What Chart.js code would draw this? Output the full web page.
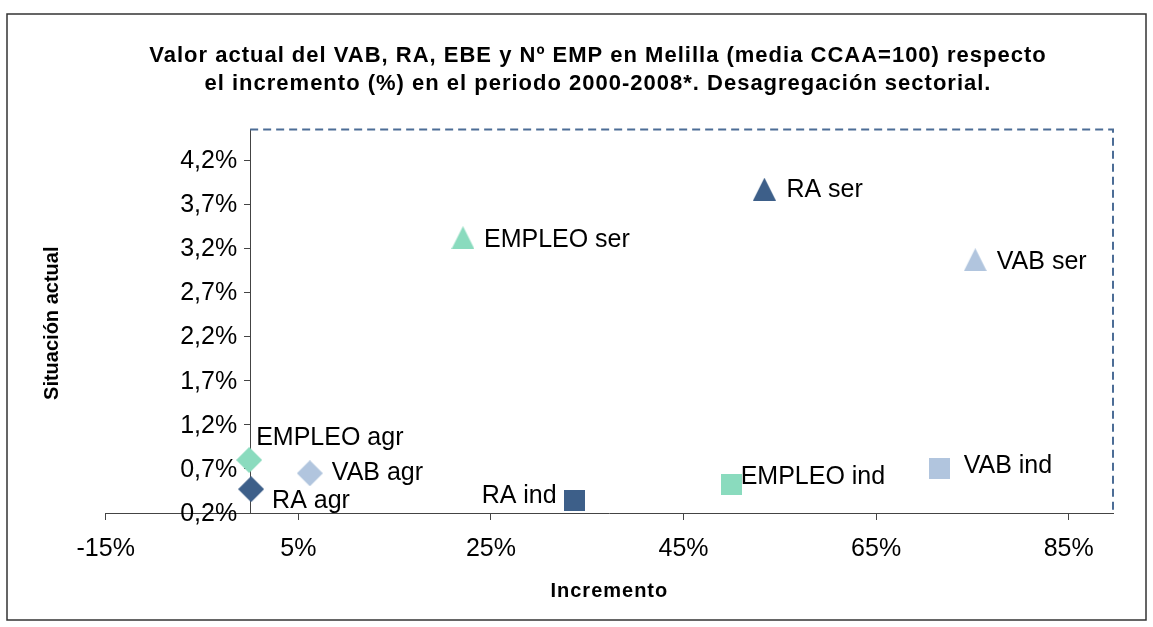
<!DOCTYPE html>
<html lang="es">
<head>
<meta charset="utf-8">
<title>Melilla - VAB, RA, EBE y EMP</title>
<script src="https://cdn.jsdelivr.net/npm/chart.js@4.4.1/dist/chart.umd.min.js"></script>
<style>
 html, body { margin:0; padding:0; background:#fff; }
 #wrap { width:1153px; height:627px; }
</style>
</head>
<body>
<div id="wrap"><canvas id="chart" width="1153" height="627"></canvas></div>
<script>
'use strict';

// values: x = increment (%), y = current situation (%)
var sectors = ['agr', 'ind', 'ser'];
var variables = ['RA', 'EMPLEO', 'VAB'];
var raInc = [0.1, 33.7, 53.4];
var raSit = [0.47, 0.34, 3.87];
var empInc = [-0.1, 50.0, 22.1];
var empSit = [0.80, 0.52, 3.32];
var vabInc = [6.2, 71.6, 75.3];
var vabSit = [0.65, 0.70, 3.07];

var xTicks = [-15, 5, 25, 45, 65, 85];
var yTicks = [0.2, 0.7, 1.2, 1.7, 2.2, 2.7, 3.2, 3.7, 4.2];

var titleLines = [
  'Valor actual del VAB, RA, EBE y Nº EMP en Melilla (media CCAA=100) respecto',
  'el incremento (%) en el periodo 2000-2008*. Desagregación sectorial.'
];
var xTitle = 'Incremento';
var yTitle = 'Situación actual';

// styles
var colors = ['#3D5F89', '#8ADBBE', '#B1C5DE'];
var FONT = '"Liberation Sans", Arial, sans-serif';
// label offset from the marker centre [dx, dy], per variable and sector
var labelOffsets = [
  [[21, 10], [-18, -7], [22, -1.5]],
  [[7, -24], [9, -10], [21, 0]],
  [[22, -2.5], [24, -4.5], [21.5, 0]]
];

function marker(sector, color) {
  var s = sector === 'agr' ? 26 : (sector === 'ser' ? 23 : 21);
  var c = document.createElement('canvas');
  c.width = s; c.height = s;
  var g = c.getContext('2d');
  g.fillStyle = color;
  g.beginPath();
  if (sector === 'agr') {
    g.moveTo(s / 2, 0); g.lineTo(s, s / 2); g.lineTo(s / 2, s); g.lineTo(0, s / 2);
  } else if (sector === 'ser') {
    g.moveTo(s / 2, 0); g.lineTo(s, s); g.lineTo(0, s);
  } else {
    g.rect(0, 0, s, s);
  }
  g.closePath();
  g.fill();
  return c;
}

function points(xs, ys) {
  return xs.map(function(v, i) { return {x: v, y: ys[i]}; });
}

var series = [[raInc, raSit], [empInc, empSit], [vabInc, vabSit]];

var datasets = variables.map(function(name, k) {
  return {
    label: name,
    data: points(series[k][0], series[k][1]),
    pointStyle: sectors.map(function(s) { return marker(s, colors[k]); }),
    pointRadius: 12,
    pointHoverRadius: 12,
    backgroundColor: colors[k],
    borderColor: colors[k]
  };
});

var decorations = {
  id: 'decorations',
  beforeDraw: function(chart) {
    var ctx = chart.ctx;
    ctx.save();
    ctx.fillStyle = '#fff';
    ctx.fillRect(0, 0, chart.width, chart.height);
    ctx.restore();
  },
  beforeDatasetsDraw: function(chart) {
    var ctx = chart.ctx, a = chart.chartArea;
    var x0 = chart.scales.x.getPixelForValue(0);
    ctx.save();
    ctx.strokeStyle = '#4C6D96';
    ctx.lineWidth = 2;
    ctx.setLineDash([8, 5]);
    ctx.beginPath();
    ctx.moveTo(x0, a.top);
    ctx.lineTo(a.right, a.top);
    ctx.lineTo(a.right, a.bottom);
    ctx.stroke();
    ctx.restore();
  },
  afterDraw: function(chart) {
    var ctx = chart.ctx, a = chart.chartArea;
    var ys = chart.scales.y;
    var x0 = chart.scales.x.getPixelForValue(0);
    ctx.save();
    // y tick labels
    ctx.fillStyle = '#000';
    ctx.font = '25px ' + FONT;
    ctx.textAlign = 'right';
    ctx.textBaseline = 'middle';
    ys.ticks.forEach(function(t) {
      ctx.fillText(t.value.toFixed(1).replace('.', ',') + '%', x0 - 13, ys.getPixelForValue(t.value) + 1);
    });
    // titles
    ctx.textAlign = 'center';
    ctx.textBaseline = 'alphabetic';
    ctx.font = 'bold 22px ' + FONT;
    ctx.letterSpacing = '1px';
    ctx.fillText(titleLines[0], 598, 62);
    ctx.fillText(titleLines[1], 598, 90);
    ctx.font = 'bold 20px ' + FONT;
    ctx.fillText(xTitle, (a.left + a.right) / 2, 597);
    ctx.letterSpacing = '0px';
    ctx.translate(58, (a.top + a.bottom) / 2 + 2);
    ctx.rotate(-Math.PI / 2);
    ctx.fillText(yTitle, 0, 0);
    ctx.restore();
    // outer frame
    ctx.save();
    ctx.strokeStyle = '#333';
    ctx.lineWidth = 1.5;
    ctx.strokeRect(7, 14, 1139, 606);
    ctx.restore();
  },
  afterDatasetsDraw: function(chart) {
    var ctx = chart.ctx;
    ctx.save();
    ctx.font = '25px ' + FONT;
    ctx.fillStyle = '#000';
    ctx.textBaseline = 'alphabetic';
    chart.data.datasets.forEach(function(ds, di) {
      chart.getDatasetMeta(di).data.forEach(function(pt, i) {
        var off = labelOffsets[di][i];
        ctx.textAlign = off[0] < 0 ? 'right' : 'left';
        ctx.fillText(ds.label + ' ' + sectors[i], pt.x + off[0], pt.y + off[1] + 9);
      });
    });
    ctx.restore();
  }
};

new Chart(document.getElementById('chart'), {
  type: 'scatter',
  data: { datasets: datasets },
  options: {
    responsive: false,
    animation: false,
    layout: { padding: { left: 105.7, right: 40, top: 129.5, bottom: 0 } },
    plugins: {
      legend: { display: false },
      tooltip: { enabled: false },
      title: { display: false }
    },
    scales: {
      x: {
        type: 'linear',
        position: 'bottom',
        min: -15,
        max: 89.6,
        afterBuildTicks: function(s) { s.ticks = xTicks.map(function(v) { return {value: v}; }); },
        afterFit: function(s) { s.height = 114; },
        ticks: {
          callback: function(v) { return v + '%'; },
          font: { size: 25, family: FONT },
          color: '#000',
          padding: 14,
          maxRotation: 0,
          autoSkip: false
        },
        grid: { display: true, drawOnChartArea: false, drawTicks: true, tickLength: 7, color: '#444' },
        border: { display: true, color: '#444', width: 1 }
      },
      y: {
        type: 'linear',
        position: { x: 0 },
        min: 0.2,
        max: 4.546,
        afterBuildTicks: function(s) { s.ticks = yTicks.map(function(v) { return {value: v}; }); },
        ticks: { display: false },
        grid: { display: true, drawOnChartArea: false, drawTicks: true, tickLength: 6, color: '#444' },
        border: { display: true, color: '#444', width: 1 }
      }
    }
  },
  plugins: [decorations]
});
</script>
</body>
</html>
